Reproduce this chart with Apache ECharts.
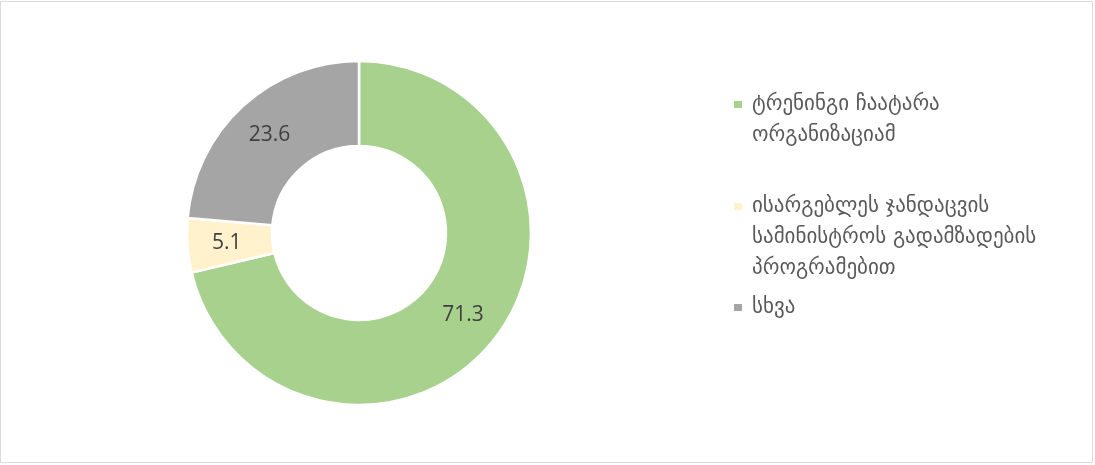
<!DOCTYPE html>
<html>
<head>
<meta charset="utf-8">
<script src="https://cdn.jsdelivr.net/npm/echarts@6/dist/echarts.min.js"></script>
<style>
html,body{margin:0;padding:0;background:#fff;}
#chart{width:1095px;height:465px;}
</style>
</head>
<body>
<div id="chart"></div>
<script>
const categories = [
  'ტრენინგი ჩაატარა ორგანიზაციამ',
  'ისარგებლეს ჯანდაცვის სამინისტროს გადამზადების პროგრამებით',
  'სხვა'
];
const legendLines = [
  ['ტრენინგი ჩაატარა', 'ორგანიზაციამ'],
  ['ისარგებლეს ჯანდაცვის', 'სამინისტროს გადამზადების', 'პროგრამებით'],
  ['სხვა']
];
const values = [71.3, 5.1, 23.6];
const colors = ['#A9D18E', '#FFF2CC', '#A5A5A5'];

const LH = 31;
const IH = 9;
const markerTops = [100, 202, 303];

const chart = echarts.init(document.getElementById('chart'), null, {renderer: 'canvas'});
const legends = categories.map((name, i) => {
  const n = legendLines[i].length;
  const above = (2 * n - 1) * LH / 2 - IH / 2;
  return {
    data: [name],
    left: 732,
    top: markerTops[i] - above,
    orient: 'vertical',
    icon: 'rect',
    itemWidth: 10,
    itemHeight: IH,
    padding: 0,
    selectedMode: false,
    formatter: () => '\n'.repeat(n - 1) + legendLines[i].join('\n'),
    textStyle: {
      fontFamily: 'DejaVu Sans',
      fontSize: 21,
      color: '#595959',
      lineHeight: LH,
      padding: [0, 0, 0, 4]
    }
  };
});

chart.setOption({
  animation: false,
  color: colors,
  graphic: [{
    type: 'rect',
    shape: {x: 0.5, y: 1.5, width: 1092, height: 461},
    style: {fill: 'none', stroke: '#D9D9D9', lineWidth: 1},
    silent: true
  }],
  legend: legends,
  series: [{
    type: 'pie',
    center: [359, 233],
    radius: [87, 172],
    startAngle: 90,
    clockwise: true,
    avoidLabelOverlap: false,
    emphasis: {disabled: true},
    itemStyle: {borderColor: '#FFFFFF', borderWidth: 2.5},
    label: {
      show: true,
      position: 'inside',
      formatter: '{c}',
      fontFamily: 'Open Sans',
      fontSize: 21,
      color: '#404040'
    },
    labelLine: {show: false},
    data: categories.map((name, i) => ({name: name, value: values[i]}))
  }]
});
</script>
</body>
</html>
